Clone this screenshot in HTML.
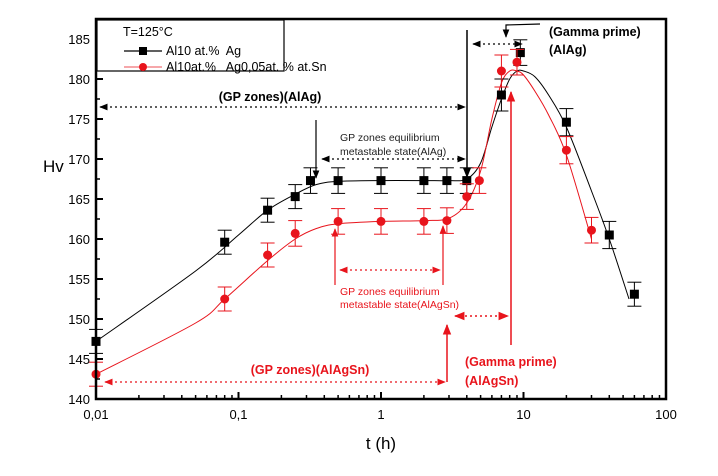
<!DOCTYPE html>
<html><head><meta charset="utf-8"><style>
body{margin:0;background:#fff;}
svg{display:block;font-family:"Liberation Sans",Arial,sans-serif;}
text{white-space:pre;}
</style></head><body>
<svg id="chart" width="718" height="476" viewBox="0 0 718 476">
<defs>
<marker id="ak" viewBox="0 0 10 10" refX="9" refY="5" markerWidth="7" markerHeight="7" orient="auto-start-reverse"><path d="M0,1 L10,5 L0,9 z" fill="#000"/></marker>
<marker id="ar" viewBox="0 0 10 10" refX="9" refY="5" markerWidth="7" markerHeight="7" orient="auto-start-reverse"><path d="M0,1 L10,5 L0,9 z" fill="#e8141c"/></marker>
</defs>
<g id="grid"></g>
<g id="fits"></g>
<g id="marks"></g>
<g id="annot" font-size="11">
 <text x="270" y="101" text-anchor="middle" font-weight="bold" font-size="12.5">(GP zones)(AlAg)</text>
 <line x1="100" y1="107" x2="465" y2="107" stroke="#000" stroke-width="1.2" stroke-dasharray="2,3" marker-start="url(#ak)" marker-end="url(#ak)"/>
 <line x1="467" y1="30" x2="467" y2="177" stroke="#000" stroke-width="1.5" marker-end="url(#ak)"/>
 <line x1="316" y1="120" x2="316" y2="178" stroke="#000" stroke-width="1.2" marker-end="url(#ak)"/>
 <text x="340" y="141" fill="#222" font-size="10.5">GP zones equilibrium</text>
 <text x="340" y="155" fill="#222" font-size="10.5">metastable state(AlAg)</text>
 <line x1="322" y1="159" x2="465" y2="159" stroke="#000" stroke-width="1.2" stroke-dasharray="2,3" marker-start="url(#ak)" marker-end="url(#ak)"/>
 <text x="549" y="36" font-weight="bold" font-size="12.5">(Gamma prime)</text>
 <text x="549" y="54" font-weight="bold" font-size="12.5">(AlAg)</text>
 <polyline points="540,24 506,25 506,37" fill="none" stroke="#000" stroke-width="1.2" marker-end="url(#ak)"/>
 <line x1="473" y1="44" x2="522" y2="44" stroke="#000" stroke-width="1.2" stroke-dasharray="2,3" marker-start="url(#ak)" marker-end="url(#ak)"/>
 <line x1="340" y1="270" x2="440" y2="270" stroke="#e8141c" stroke-width="1.2" stroke-dasharray="2,3" marker-start="url(#ar)" marker-end="url(#ar)"/>
 <line x1="335" y1="285" x2="335" y2="229" stroke="#e8141c" stroke-width="1.2" marker-end="url(#ar)"/>
 <line x1="443" y1="285" x2="443" y2="226" stroke="#e8141c" stroke-width="1.2" marker-end="url(#ar)"/>
 <text x="340" y="295" fill="#e8141c" font-size="10.5">GP zones equilibrium</text>
 <text x="340" y="308" fill="#e8141c" font-size="10.5">metastable state(AlAgSn)</text>
 <line x1="455" y1="316" x2="508" y2="316" stroke="#e8141c" stroke-width="1.5" stroke-dasharray="2,3" marker-start="url(#ar)" marker-end="url(#ar)"/>
 <line x1="511" y1="345" x2="511" y2="92" stroke="#e8141c" stroke-width="1.5" marker-end="url(#ar)"/>
 <text x="310" y="374" text-anchor="middle" fill="#e8141c" font-weight="bold" font-size="12.5">(GP zones)(AlAgSn)</text>
 <line x1="105" y1="382" x2="445" y2="382" stroke="#e8141c" stroke-width="1.2" stroke-dasharray="2,3" marker-start="url(#ar)" marker-end="url(#ar)"/>
 <line x1="447" y1="382" x2="447" y2="325" stroke="#e8141c" stroke-width="1.5" marker-end="url(#ar)"/>
 <text x="465" y="366" fill="#e8141c" font-weight="bold" font-size="12.5">(Gamma prime)</text>
 <text x="465" y="385" fill="#e8141c" font-weight="bold" font-size="12.5">(AlAgSn)</text>
</g>
<g id="axes"></g>
<g>
 <rect x="97" y="20" width="187" height="51" fill="#fff" stroke="#000" stroke-width="1.2"/>
 <text x="123" y="36" font-size="12.5">T=125°C</text>
 <line x1="124" y1="51" x2="162" y2="51" stroke="#000" stroke-width="1.2"/>
 <rect x="139" y="47" width="8" height="8" fill="#000"/>
 <text x="166" y="55" font-size="12.5">Al10 at.%  Ag</text>
 <line x1="124" y1="67" x2="162" y2="67" stroke="#e8141c" stroke-width="0.8"/>
 <circle cx="143" cy="67" r="4" fill="#e8141c"/>
 <text x="166" y="71" font-size="12.5">Al10at.%   Ag0,05at. % at.Sn</text>
</g>
</svg>
<script>
const blackT=[0.01,0.08,0.16,0.25,0.32,0.5,1,2,2.9,4,7,9.5,20,40,60];
const blackHv=[147.2,159.6,163.6,165.3,167.3,167.3,167.3,167.3,167.3,167.3,178,183.3,174.6,160.5,153.1];
const redT=[0.01,0.08,0.16,0.25,0.5,1,2,2.9,4,4.9,7,9,20,30];
const redHv=[143.1,152.5,158,160.7,162.2,162.2,162.2,162.3,165.3,167.3,181,182.1,171.1,161.1];
const blackFitT=[0.01,0.05,0.1,0.16,0.25,0.35,0.5,1,2,3,4,5,6,7,8,9,10,12,15,20,30,40,55];
const blackFitHv=[147.2,156,160.5,163.6,165.6,166.8,167.2,167.3,167.3,167.3,167.5,169.5,174,177.5,180,181,181,180.3,178,174,166,160,152.5];
const redFitT=[0.01,0.05,0.08,0.16,0.25,0.35,0.5,1,2,3,4,5,6,7,8,9,10,12,15,20,30];
const redFitHv=[143.1,149.5,152.5,157.3,160,161.3,161.9,162.2,162.3,162.6,164.5,168.5,175,179.5,181,181,180.5,178.5,175.5,170.5,160];
const errBlack=[1.5,1.5,1.5,1.5,1.6,1.6,1.6,1.6,1.6,1.6,2,1.6,1.7,1.7,1.5];
const errRed=[1.5,1.5,1.5,1.6,1.6,1.6,1.6,1.6,1.6,1.6,2,1.6,1.7,1.6];
const yTicks=[140,145,150,155,160,165,170,175,180,185];
const xTickVals=[0.01,0.1,1,10,100];
const xTickLabels=["0,01","0,1","1","10","100"];
const L=96,R=666,T=19,B=399;
const X=t=>L+(Math.log10(t)+2)*(R-L)/4;
const Y=v=>B-(v-140)*(B-T)/47.5;
const NS="http://www.w3.org/2000/svg";
function mk(tag,attrs,parent){const e=document.createElementNS(NS,tag);for(const k in attrs)e.setAttribute(k,attrs[k]);document.getElementById(parent).appendChild(e);return e;}
function smooth(ts,vs){const p=ts.map((t,i)=>[X(t),Y(vs[i])]);let d="M"+p[0][0]+","+p[0][1];for(let i=0;i<p.length-1;i++){const p0=p[i-1]||p[i],p1=p[i],p2=p[i+1],p3=p[i+2]||p2;const c1=[p1[0]+(p2[0]-p0[0])/6,p1[1]+(p2[1]-p0[1])/6],c2=[p2[0]-(p3[0]-p1[0])/6,p2[1]-(p3[1]-p1[1])/6];d+=` C${c1[0]},${c1[1]} ${c2[0]},${c2[1]} ${p2[0]},${p2[1]}`;}return d;}
let e;
e=mk("path",{d:smooth(blackFitT,blackFitHv),fill:"none",stroke:"#000","stroke-width":1},"fits");


e=mk("path",{d:smooth(redFitT,redFitHv),fill:"none",stroke:"#e8141c","stroke-width":1},"fits");


blackT.forEach((t,i)=>{const x=X(t),y=Y(blackHv[i]),e1=Y(blackHv[i]+errBlack[i]),e2=Y(blackHv[i]-errBlack[i]);
 const g=mk("g",{},"marks");
 
 
 g.innerHTML=`<line x1="${x}" y1="${e1}" x2="${x}" y2="${e2}" stroke="#000"/><line x1="${x-7}" y1="${e1}" x2="${x+7}" y2="${e1}" stroke="#000"/><line x1="${x-7}" y1="${e2}" x2="${x+7}" y2="${e2}" stroke="#000"/><rect x="${x-4.5}" y="${y-4.5}" width="9" height="9" fill="#000"/>`;});
redT.forEach((t,i)=>{const x=X(t),y=Y(redHv[i]),e1=Y(redHv[i]+errRed[i]),e2=Y(redHv[i]-errRed[i]);
 const g=mk("g",{},"marks");
 
 
 g.innerHTML=`<line x1="${x}" y1="${e1}" x2="${x}" y2="${e2}" stroke="#e8141c"/><line x1="${x-7}" y1="${e1}" x2="${x+7}" y2="${e1}" stroke="#e8141c"/><line x1="${x-7}" y1="${e2}" x2="${x+7}" y2="${e2}" stroke="#e8141c"/><circle cx="${x}" cy="${y}" r="4.5" fill="#e8141c"/>`;});
e=mk("rect",{x:L,y:T,width:R-L,height:B-T,fill:"none",stroke:"#000","stroke-width":2.5},"axes");


yTicks.forEach(v=>{const y=Y(v);mk("line",{x1:L,y1:y,x2:L+7,y2:y,stroke:"#000","stroke-width":2},"axes");
 mk("line",{x1:L,y1:Y(v+2.5),x2:L+4,y2:Y(v+2.5),stroke:"#000","stroke-width":1.5},"axes");
 const t=mk("text",{x:L-6,y:y+5,"text-anchor":"end","font-size":13},"axes");t.textContent=v;
 
 });
xTickVals.forEach((v,i)=>{const x=X(v);mk("line",{x1:x,y1:B,x2:x,y2:B-7,stroke:"#000","stroke-width":2},"axes");
 if(i<4)for(let k=2;k<10;k++){const xx=X(v*k);mk("line",{x1:xx,y1:B,x2:xx,y2:B-4,stroke:"#000","stroke-width":1.5},"axes");}
 const t=mk("text",{x:x,y:B+20,"text-anchor":"middle","font-size":13},"axes");t.textContent=xTickLabels[i];
 
 });
e=mk("text",{x:381,y:449,"text-anchor":"middle","font-size":17},"axes");e.textContent="t (h)";


e=mk("text",{x:43,y:172,"font-size":17},"axes");e.textContent="Hv";


</script>
</body></html>
